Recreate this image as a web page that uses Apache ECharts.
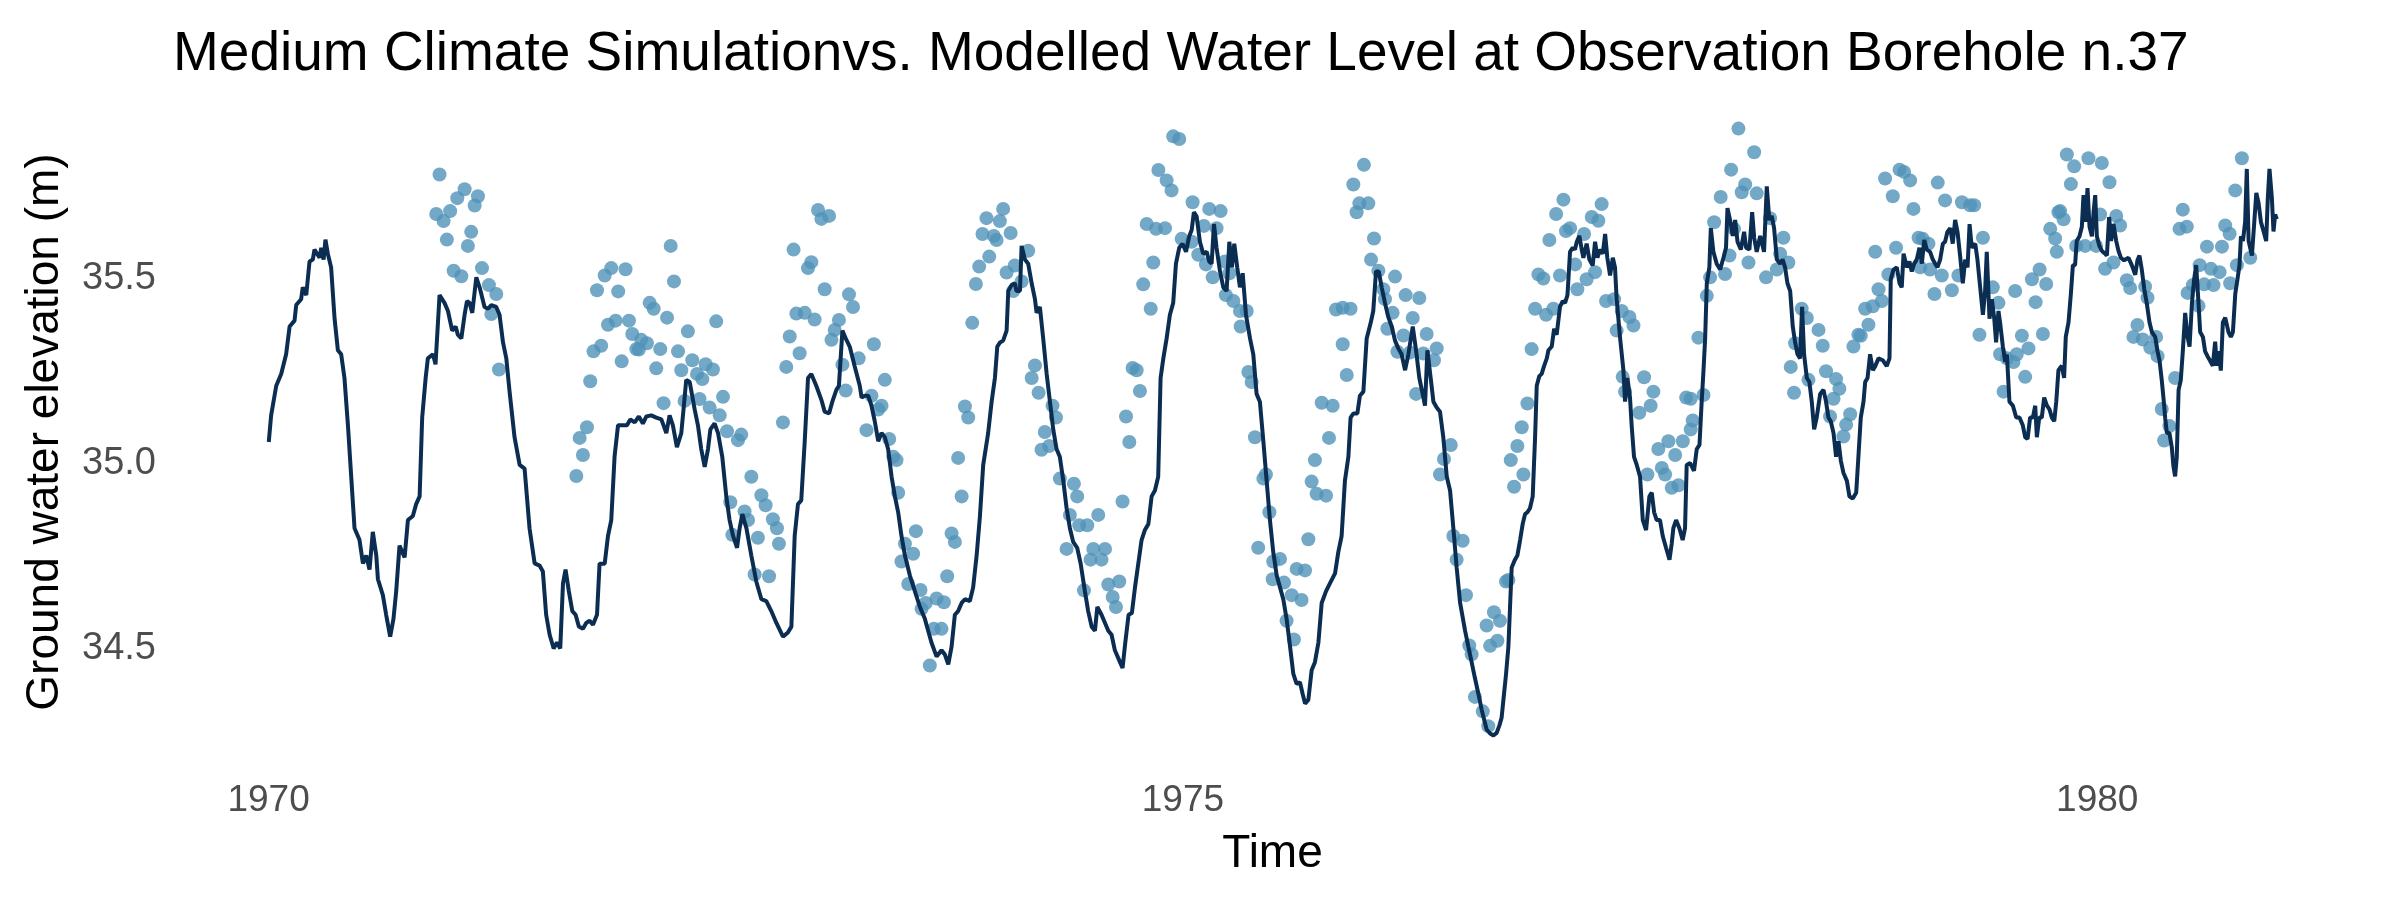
<!DOCTYPE html>
<html>
<head>
<meta charset="utf-8">
<title>Observation Borehole n.37</title>
<script src="https://cdn.jsdelivr.net/npm/echarts@6.0.0/dist/echarts.min.js"></script>
<style>
  html, body { margin: 0; padding: 0; background: #fff; }
  #chart { width: 2400px; height: 900px; }
</style>
</head>
<body>
<div id="chart"></div>
<script>
var xTicks = [1970, 1975, 1980];
var yTicks = [34.5, 35.0, 35.5];

// modelled water level [year, m]
var modelled = [
[1970.001,35.058],[1970.014,35.130],[1970.042,35.210],[1970.069,35.242],[1970.096,35.295],[1970.115,35.370],[1970.142,35.386],[1970.151,35.428],[1970.178,35.444],[1970.187,35.476],[1970.206,35.455],[1970.224,35.546],[1970.242,35.551],[1970.251,35.578],[1970.279,35.556],[1970.288,35.583],[1970.301,35.551],[1970.311,35.605],[1970.324,35.567],[1970.342,35.530],[1970.361,35.391],[1970.379,35.306],[1970.397,35.295],[1970.415,35.231],[1970.434,35.103],[1970.452,34.964],[1970.470,34.825],[1970.497,34.794],[1970.516,34.730],[1970.534,34.751],[1970.552,34.713],[1970.570,34.815],[1970.589,34.751],[1970.598,34.687],[1970.625,34.644],[1970.643,34.591],[1970.665,34.532],[1970.683,34.580],[1970.698,34.655],[1970.716,34.778],[1970.744,34.746],[1970.762,34.847],[1970.789,34.858],[1970.807,34.890],[1970.826,34.911],[1970.840,35.124],[1970.859,35.231],[1970.871,35.284],[1970.899,35.295],[1970.913,35.268],[1970.935,35.455],[1970.962,35.434],[1970.981,35.412],[1971.004,35.359],[1971.023,35.370],[1971.035,35.348],[1971.054,35.338],[1971.072,35.402],[1971.085,35.439],[1971.099,35.434],[1971.114,35.407],[1971.136,35.503],[1971.154,35.476],[1971.181,35.423],[1971.200,35.418],[1971.218,35.428],[1971.245,35.423],[1971.263,35.402],[1971.282,35.327],[1971.300,35.284],[1971.318,35.194],[1971.345,35.071],[1971.373,34.996],[1971.400,34.986],[1971.427,34.825],[1971.455,34.730],[1971.482,34.724],
[1971.500,34.708],[1971.518,34.591],[1971.537,34.537],[1971.559,34.500],[1971.577,34.516],[1971.595,34.500],[1971.610,34.676],[1971.624,34.713],[1971.642,34.655],[1971.661,34.601],[1971.679,34.591],[1971.697,34.559],[1971.719,34.553],[1971.737,34.569],[1971.756,34.575],[1971.774,34.564],[1971.796,34.591],[1971.810,34.729],[1971.838,34.729],[1971.856,34.804],[1971.874,34.847],[1971.892,35.018],[1971.911,35.103],[1971.938,35.103],[1971.960,35.103],[1971.978,35.119],[1972.002,35.111],[1972.025,35.127],[1972.047,35.108],[1972.066,35.127],[1972.093,35.130],[1972.120,35.124],[1972.148,35.119],[1972.175,35.082],[1972.193,35.130],[1972.211,35.103],[1972.233,35.044],[1972.257,35.082],[1972.270,35.151],[1972.284,35.226],[1972.303,35.220],[1972.330,35.146],[1972.348,35.103],[1972.366,35.039],[1972.385,34.991],[1972.403,35.039],[1972.416,35.092],[1972.439,35.108],[1972.458,35.082],[1972.481,35.018],[1972.503,34.911],[1972.521,34.847],[1972.540,34.804],[1972.562,34.772],[1972.576,34.825],[1972.591,34.863],[1972.613,34.825],[1972.640,34.751],[1972.667,34.681],[1972.695,34.633],[1972.722,34.628],[1972.749,34.601],[1972.777,34.569],[1972.813,34.532],[1972.840,34.543],[1972.859,34.559],[1972.877,34.804],[1972.895,34.890],[1972.913,34.900],[1972.932,35.060],[1972.950,35.231],[1972.968,35.242],[1972.995,35.210],[1973.023,35.172],[1973.041,35.140],[1973.065,35.135],[1973.083,35.167],[1973.105,35.199],[1973.119,35.210],[1973.138,35.359],[1973.156,35.338],[1973.178,35.316],[1973.205,35.263],[1973.233,35.210],
[1973.243,35.178],[1973.261,35.183],[1973.279,35.183],[1973.297,35.156],[1973.315,35.114],[1973.334,35.060],[1973.352,35.082],[1973.370,35.071],[1973.388,35.039],[1973.407,34.964],[1973.425,34.911],[1973.443,34.868],[1973.461,34.804],[1973.480,34.751],[1973.507,34.697],[1973.534,34.655],[1973.562,34.612],[1973.589,34.580],[1973.607,34.548],[1973.625,34.516],[1973.653,34.478],[1973.680,34.495],[1973.698,34.484],[1973.717,34.457],[1973.735,34.505],[1973.753,34.591],[1973.771,34.601],[1973.790,34.623],[1973.808,34.633],[1973.835,34.628],[1973.853,34.665],[1973.872,34.751],[1973.890,34.857],[1973.908,34.996],[1973.935,35.082],[1973.954,35.167],[1973.972,35.231],[1973.985,35.316],[1974.000,35.327],[1974.017,35.332],[1974.036,35.359],[1974.045,35.466],[1974.063,35.482],[1974.081,35.487],[1974.090,35.466],[1974.109,35.466],[1974.118,35.588],[1974.136,35.551],[1974.154,35.540],[1974.173,35.487],[1974.191,35.444],[1974.200,35.407],[1974.218,35.423],[1974.236,35.338],[1974.255,35.242],[1974.273,35.167],[1974.291,35.092],[1974.309,35.039],[1974.327,35.018],[1974.346,34.953],[1974.364,34.879],[1974.382,34.825],[1974.400,34.788],[1974.422,34.772],[1974.441,34.729],[1974.464,34.655],[1974.482,34.601],[1974.501,34.559],[1974.519,34.548],[1974.532,34.612],[1974.555,34.591],[1974.574,34.569],[1974.592,34.548],[1974.610,34.537],[1974.628,34.495],[1974.656,34.463],[1974.670,34.447],[1974.685,34.516],[1974.703,34.591],[1974.721,34.596],[1974.738,34.665],[1974.756,34.729],[1974.774,34.793],
[1974.792,34.820],[1974.811,34.836],[1974.829,34.911],[1974.847,34.927],[1974.865,34.964],[1974.878,35.231],[1974.893,35.284],[1974.911,35.338],[1974.929,35.402],[1974.947,35.434],[1974.962,35.540],[1974.980,35.583],[1974.998,35.594],[1975.017,35.572],[1975.035,35.615],[1975.048,35.631],[1975.060,35.679],[1975.075,35.668],[1975.093,35.599],[1975.111,35.567],[1975.130,35.572],[1975.144,35.546],[1975.157,35.540],[1975.170,35.647],[1975.184,35.583],[1975.203,35.519],[1975.221,35.476],[1975.239,35.466],[1975.254,35.599],[1975.268,35.530],[1975.281,35.594],[1975.297,35.530],[1975.312,35.476],[1975.327,35.514],[1975.345,35.402],[1975.367,35.338],[1975.385,35.295],[1975.403,35.188],[1975.421,35.167],[1975.440,35.060],[1975.458,34.953],[1975.476,34.847],[1975.494,34.761],[1975.513,34.697],[1975.531,34.665],[1975.549,34.633],[1975.567,34.580],[1975.586,34.505],[1975.604,34.431],[1975.622,34.404],[1975.640,34.409],[1975.655,34.377],[1975.668,34.351],[1975.686,34.361],[1975.704,34.441],[1975.722,34.463],[1975.741,34.516],[1975.759,34.623],[1975.783,34.655],[1975.804,34.676],[1975.832,34.703],[1975.850,34.761],[1975.868,34.804],[1975.886,34.953],[1975.905,35.018],[1975.917,35.124],[1975.932,35.135],[1975.954,35.135],[1975.968,35.183],[1975.987,35.194],[1976.005,35.338],[1976.027,35.380],[1976.041,35.412],[1976.056,35.519],[1976.071,35.519],[1976.087,35.476],[1976.105,35.434],[1976.123,35.396],[1976.142,35.370],[1976.160,35.332],[1976.178,35.311],[1976.196,35.295],[1976.215,35.252],[1976.233,35.295],[1976.257,35.370],[1976.275,35.306],[1976.293,35.231],[1976.311,35.188],[1976.324,35.156],[1976.337,35.306],[1976.355,35.231],[1976.370,35.167],[1976.388,35.151],[1976.406,35.140],[1976.424,35.071],[1976.443,34.964],[1976.461,34.927],[1976.479,34.825],[1976.497,34.719],[1976.516,34.623],
[1976.543,34.548],[1976.561,34.505],[1976.579,34.463],[1976.597,34.420],[1976.616,34.377],[1976.634,34.334],[1976.661,34.281],[1976.680,34.270],[1976.698,34.265],[1976.716,34.272],[1976.731,34.292],[1976.743,34.313],[1976.756,34.377],[1976.767,34.430],[1976.780,34.505],[1976.789,34.612],[1976.798,34.719],[1976.816,34.740],[1976.829,34.751],[1976.844,34.793],[1976.858,34.836],[1976.871,34.863],[1976.884,34.868],[1976.898,34.879],[1976.913,34.911],[1976.926,35.071],[1976.935,35.210],[1976.949,35.236],[1976.962,35.242],[1976.975,35.263],[1976.990,35.284],[1976.999,35.306],[1977.017,35.316],[1977.030,35.364],[1977.044,35.348],[1977.053,35.343],[1977.062,35.423],[1977.077,35.439],[1977.090,35.434],[1977.103,35.455],[1977.117,35.572],[1977.132,35.583],[1977.144,35.578],[1977.154,35.599],[1977.168,35.615],[1977.181,35.578],[1977.190,35.556],[1977.208,35.594],[1977.223,35.551],[1977.241,35.535],[1977.254,35.599],[1977.267,35.556],[1977.281,35.578],[1977.296,35.567],[1977.309,35.620],[1977.321,35.556],[1977.336,35.508],[1977.351,35.556],[1977.363,35.530],[1977.372,35.444],[1977.391,35.338],[1977.409,35.252],[1977.418,35.167],[1977.431,35.231],[1977.445,35.178],[1977.454,35.103],[1977.467,35.018],[1977.482,34.996],[1977.500,34.964],[1977.515,34.847],[1977.533,34.820],[1977.551,34.911],[1977.564,34.921],[1977.577,34.868],[1977.591,34.847],[1977.609,34.847],[1977.624,34.804],[1977.642,34.772],[1977.661,34.740],[1977.673,34.783],[1977.682,34.825],[1977.697,34.847],[1977.715,34.825],[1977.733,34.793],[1977.746,34.825],[1977.755,34.996],[1977.774,35.001],[1977.795,34.980],[1977.810,35.039],[1977.825,35.050],[1977.837,35.167],[1977.847,35.252],[1977.856,35.338],[1977.865,35.487],[1977.879,35.530],[1977.887,35.636],[1977.901,35.572],[1977.919,35.540],[1977.938,35.524],[1977.956,35.556],[1977.970,35.583],[1977.978,35.690],[1977.992,35.658],[1978.007,35.615],[1978.020,35.658],[1978.033,35.599],[1978.051,35.578],[1978.069,35.626],[1978.080,35.583],[1978.098,35.578],[1978.113,35.679],[1978.124,35.610],[1978.138,35.572],[1978.157,35.615],
[1978.166,35.615],[1978.178,35.572],[1978.193,35.749],[1978.207,35.658],[1978.220,35.669],[1978.233,35.636],[1978.248,35.551],[1978.266,35.540],[1978.280,35.551],[1978.293,35.530],[1978.306,35.487],[1978.321,35.466],[1978.335,35.370],[1978.348,35.327],[1978.361,35.295],[1978.375,35.284],[1978.386,35.423],[1978.397,35.295],[1978.412,35.231],[1978.426,35.220],[1978.439,35.167],[1978.452,35.092],[1978.466,35.124],[1978.485,35.188],[1978.503,35.199],[1978.517,35.167],[1978.530,35.124],[1978.543,35.114],[1978.558,35.082],[1978.572,35.018],[1978.585,35.060],[1978.598,35.007],[1978.612,34.975],[1978.631,34.953],[1978.645,34.911],[1978.663,34.905],[1978.682,34.921],[1978.694,35.018],[1978.707,35.124],[1978.722,35.167],[1978.731,35.220],[1978.744,35.231],[1978.758,35.295],[1978.773,35.252],[1978.786,35.263],[1978.804,35.284],[1978.827,35.279],[1978.849,35.263],[1978.864,35.284],[1978.871,35.498],[1978.886,35.524],[1978.904,35.530],[1978.919,35.487],[1978.931,35.476],[1978.941,35.567],[1978.959,35.530],[1978.973,35.546],[1978.986,35.519],[1978.999,35.540],[1979.013,35.551],[1979.028,35.583],[1979.041,35.540],[1979.054,35.604],[1979.068,35.578],[1979.086,35.572],[1979.101,35.551],[1979.114,35.540],[1979.126,35.530],[1979.141,35.551],[1979.156,35.594],[1979.168,35.599],[1979.181,35.626],[1979.196,35.636],[1979.210,35.594],[1979.223,35.658],[1979.236,35.626],[1979.250,35.562],[1979.265,35.487],[1979.278,35.551],[1979.291,35.530],[1979.302,35.647],[1979.314,35.583],[1979.333,35.594],[1979.345,35.551],[1979.360,35.476],[1979.375,35.402],[1979.387,35.466],[1979.396,35.572],[1979.411,35.391],[1979.424,35.444],[1979.437,35.391],[1979.447,35.327],[1979.460,35.412],[1979.469,35.380],[1979.484,35.316],[1979.497,35.274],[1979.506,35.295],[1979.520,35.167],[1979.539,35.156],[1979.557,35.124],[1979.575,35.124],[1979.593,35.103],[1979.606,35.071],[1979.619,35.066],[1979.633,35.124],[1979.648,35.124],[1979.661,35.156],[1979.670,35.071],[1979.683,35.124],[1979.697,35.124],[1979.710,35.178],[1979.725,35.156],[1979.739,35.146],[1979.752,35.124],[1979.765,35.114],[1979.776,35.167],[1979.788,35.252],
[1979.806,35.264],[1979.819,35.231],[1979.828,35.342],[1979.843,35.381],[1979.856,35.459],[1979.867,35.536],[1979.879,35.536],[1979.888,35.601],[1979.903,35.614],[1979.916,35.640],[1979.925,35.725],[1979.936,35.653],[1979.947,35.744],[1979.958,35.640],[1979.971,35.614],[1979.980,35.679],[1979.989,35.725],[1979.998,35.614],[1980.012,35.588],[1980.025,35.575],[1980.038,35.569],[1980.053,35.562],[1980.065,35.666],[1980.076,35.601],[1980.089,35.647],[1980.104,35.601],[1980.116,35.575],[1980.129,35.556],[1980.147,35.549],[1980.171,35.556],[1980.189,35.536],[1980.208,35.510],[1980.220,35.549],[1980.231,35.562],[1980.244,35.523],[1980.257,35.472],[1980.271,35.433],[1980.286,35.381],[1980.299,35.355],[1980.317,35.342],[1980.330,35.303],[1980.341,35.277],[1980.353,35.225],[1980.363,35.173],[1980.372,35.121],[1980.381,35.082],[1980.395,35.082],[1980.408,35.043],[1980.417,34.991],[1980.426,34.965],[1980.435,35.017],[1980.445,35.199],[1980.457,35.225],[1980.468,35.303],[1980.481,35.407],[1980.494,35.342],[1980.505,35.316],[1980.518,35.433],[1980.530,35.498],[1980.541,35.536],[1980.554,35.433],[1980.563,35.355],[1980.578,35.342],[1980.590,35.303],[1980.603,35.290],[1980.618,35.277],[1980.632,35.264],[1980.645,35.329],[1980.654,35.264],[1980.663,35.303],[1980.676,35.251],[1980.687,35.381],[1980.700,35.394],[1980.718,35.355],[1980.731,35.342],[1980.742,35.355],[1980.755,35.459],[1980.767,35.498],[1980.778,35.536],[1980.786,35.614],[1980.797,35.601],[1980.809,35.653],[1980.818,35.796],[1980.828,35.601],[1980.846,35.562],[1980.859,35.653],[1980.870,35.731],[1980.882,35.705],[1980.895,35.653],[1980.910,35.627],[1980.924,35.601],[1980.933,35.718],[1980.942,35.796],[1980.955,35.718],[1980.964,35.627],[1980.973,35.673],[1980.982,35.660]
];

// observed points [year, m]
var observed = [
[1970.935,35.781],[1971.072,35.741],[1971.145,35.722],[1971.032,35.717],[1971.127,35.697],[1970.993,35.682],[1970.917,35.674],[1970.957,35.655],[1970.975,35.605],[1971.108,35.626],[1971.090,35.588],[1971.012,35.521],[1971.054,35.506],[1971.167,35.528],[1971.205,35.482],[1971.245,35.458],[1971.218,35.404],[1971.260,35.254],
[1971.683,34.966],[1971.719,35.023],[1971.701,35.069],[1971.741,35.098],[1971.759,35.222],[1971.777,35.303],[1971.819,35.318],[1971.796,35.468],[1971.838,35.508],[1971.874,35.528],[1971.952,35.525],[1971.912,35.465],[1971.856,35.375],[1971.898,35.386],[1971.971,35.386],[1971.989,35.350],[1972.038,35.334],[1972.011,35.309],[1972.069,35.325],[1972.025,35.308],[1971.931,35.276],[1972.142,35.309],[1972.120,35.257],[1972.084,35.434],[1972.106,35.418],[1972.179,35.394],[1972.199,35.588],[1972.217,35.492],[1972.293,35.357],[1972.239,35.303],[1972.257,35.252],[1972.317,35.279],[1972.343,35.242],[1972.390,35.268],[1972.430,35.254],[1972.372,35.228],[1972.448,35.384],[1972.160,35.163],[1972.275,35.169],[1972.357,35.174],[1972.412,35.151],[1972.467,35.130],[1972.485,35.180],[1972.507,35.087],[1972.567,35.063],[1972.585,35.078],[1972.640,34.964],[1972.695,34.914],[1972.718,34.887],[1972.525,34.895],[1972.603,34.870],[1972.622,34.847],[1972.758,34.849],[1972.780,34.825],[1972.536,34.807],[1972.676,34.799],[1972.791,34.783],[1972.658,34.700],[1972.737,34.695],[1972.813,35.111],[1972.831,35.261],[1972.850,35.343],[1972.904,35.298],[1972.886,35.405],[1972.932,35.407],[1972.986,35.389],[1973.041,35.471],[1972.871,35.578],[1972.950,35.528],[1972.968,35.544],[1973.005,35.685],[1973.023,35.661],[1973.065,35.669],[1973.078,35.334],[1973.096,35.361],[1973.119,35.388],[1973.174,35.457],[1973.196,35.423],[1973.138,35.267],[1973.156,35.197],[1973.227,35.284],
[1973.270,35.090],[1973.310,35.322],[1973.370,35.226],[1973.297,35.183],[1973.352,35.156],[1973.334,35.146],[1973.394,35.066],[1973.416,35.018],[1973.434,35.009],[1973.443,34.921],[1973.540,34.817],[1973.480,34.783],[1973.525,34.756],[1973.461,34.735],[1973.498,34.674],[1973.565,34.658],[1973.594,34.623],[1973.653,34.635],[1973.693,34.625],[1973.571,34.607],[1973.638,34.553],[1973.680,34.553],[1973.616,34.454],[1973.711,34.695],[1973.735,34.811],[1973.753,34.788],[1973.771,35.015],[1973.790,34.911],[1973.808,35.154],[1973.826,35.124],[1973.848,35.380],[1973.868,35.485],[1973.886,35.532],[1973.926,35.663],[1973.904,35.620],[1973.941,35.559],[1973.966,35.615],[1973.981,35.604],[1973.999,35.655],[1974.017,35.688],[1974.058,35.623],[1974.036,35.516],[1974.081,35.535],[1974.118,35.492],[1974.072,35.466],[1974.154,35.575],[1974.191,35.265],[1974.173,35.231],[1974.211,35.191],[1974.287,35.156],[1974.306,35.124],[1974.245,35.085],[1974.227,35.037],[1974.269,35.047],[1974.327,34.959],[1974.404,34.945],[1974.422,34.911],[1974.382,34.861],[1974.433,34.833],[1974.477,34.833],[1974.537,34.861],[1974.364,34.769],[1974.510,34.769],[1974.574,34.769],[1974.495,34.740],[1974.555,34.740],[1974.459,34.657],[1974.592,34.673],[1974.652,34.681],[1974.616,34.639],[1974.634,34.612],[1974.670,34.897],[1974.689,35.127],[1974.707,35.058],[1974.725,35.258],[1974.747,35.252],[1974.765,35.196],[1974.783,35.484],[1974.824,35.418],[1974.838,35.543],[1974.802,35.647],[1974.853,35.634],[1974.866,35.793],
[1974.947,35.884],[1974.980,35.877],[1974.911,35.765],[1974.938,35.738],[1974.902,35.636],[1975.053,35.706],[1975.144,35.688],[1975.206,35.682],[1975.115,35.642],[1975.184,35.636],[1974.993,35.607],[1975.048,35.599],[1975.084,35.564],[1975.126,35.538],[1975.163,35.503],[1975.230,35.546],[1975.254,35.514],[1975.235,35.455],[1975.276,35.439],[1975.312,35.412],[1975.349,35.412],[1975.316,35.370],[1975.358,35.247],[1975.376,35.220],[1975.394,35.071],[1975.440,34.959],[1975.454,34.970],[1975.473,34.868],[1975.412,34.772],[1975.531,34.742],[1975.494,34.735],[1975.491,34.687],[1975.553,34.678],[1975.595,34.644],[1975.649,34.631],[1975.567,34.575],[1975.607,34.524],[1975.622,34.715],[1975.668,34.711],[1975.686,34.795],[1975.704,34.951],[1975.722,35.009],[1975.731,34.918],[1975.783,34.913],[1975.799,35.069],[1975.759,35.164],[1975.819,35.156],[1975.896,35.239],[1975.874,35.322],[1975.837,35.416],[1975.874,35.421],[1975.917,35.418],[1975.950,35.679],[1975.932,35.754],[1975.965,35.703],[1976.014,35.703],[1975.990,35.807],[1976.045,35.608],[1976.029,35.551],[1976.069,35.521],[1976.160,35.505],[1976.096,35.471],[1976.105,35.444],[1976.147,35.407],[1976.118,35.364],[1976.218,35.455],[1976.293,35.447],[1976.257,35.393],[1976.333,35.350],[1976.206,35.346],[1976.173,35.302],[1976.242,35.300],[1976.315,35.297],[1976.388,35.311],[1976.373,35.279],[1976.275,35.188],[1976.465,35.050],[1976.428,35.012],[1976.406,34.970],[1976.479,34.804],[1976.497,34.740],
[1978.038,35.905],[1978.124,35.841],[1977.998,35.794],[1978.075,35.754],[1978.056,35.733],[1978.138,35.730],[1977.941,35.720],[1977.905,35.652],[1978.014,35.634],[1977.989,35.562],[1977.965,35.512],[1978.093,35.543],[1977.883,35.503],[1977.865,35.453],[1977.819,35.340],[1977.847,35.185],[1977.752,35.178],[1977.777,35.175],[1977.788,35.116],[1977.777,35.092],[1977.734,35.060],[1977.655,35.060],[1977.692,35.023],[1977.600,35.039],[1977.619,34.988],[1977.637,34.970],[1977.673,34.934],[1977.710,34.941],[1977.540,34.970],[1977.522,35.233],[1977.573,35.194],[1977.558,35.156],[1977.496,35.137],[1977.464,35.373],[1977.442,35.396],[1977.400,35.412],[1977.372,35.359],[1977.405,35.234],[1977.418,35.194],[1977.358,35.444],[1977.314,35.439],[1977.290,35.701],[1977.236,35.666],[1977.272,35.656],[1977.194,35.620],[1977.117,35.636],[1977.095,35.628],[1977.081,35.713],[1977.041,35.674],[1977.004,35.604],[1977.062,35.508],[1976.944,35.511],[1976.971,35.500],[1977.145,35.538],[1977.157,35.471],[1977.208,35.498],[1977.254,35.517],[1976.926,35.418],[1976.986,35.402],[1977.026,35.418],[1976.907,35.309],[1976.884,35.162],[1976.853,35.098],[1976.829,35.047],[1976.793,35.009],[1976.811,34.937],[1976.862,34.970],[1976.767,34.681],[1976.780,34.685],[1976.701,34.598],[1976.734,34.575],[1976.661,34.562],[1976.680,34.507],[1976.720,34.521],[1976.566,34.508],[1976.579,34.484],[1976.597,34.369],[1976.548,34.644],[1976.530,34.791],[1976.640,34.330],[1976.670,34.290],
[1978.211,35.663],[1978.284,35.610],[1978.266,35.567],[1978.311,35.543],[1978.189,35.503],[1978.248,35.524],[1978.384,35.418],[1978.412,35.393],[1978.348,35.325],[1978.324,35.261],[1978.342,35.191],[1978.421,35.226],[1978.476,35.361],[1978.499,35.318],[1978.517,35.249],[1978.572,35.228],[1978.590,35.202],[1978.558,35.175],[1978.539,35.127],[1978.627,35.105],[1978.649,35.133],[1978.612,35.073],[1978.667,35.316],[1978.694,35.348],[1978.749,35.375],[1978.707,35.345],[1978.731,35.418],[1978.773,35.425],[1978.804,35.471],[1978.822,35.439],[1978.786,35.572],[1978.840,35.770],[1978.882,35.722],[1978.919,35.794],[1978.944,35.788],[1978.977,35.765],[1978.995,35.688],[1978.858,35.511],[1978.900,35.583],[1979.023,35.610],[1979.046,35.607],[1979.077,35.594],[1979.032,35.530],[1979.086,35.524],[1979.150,35.508],[1979.110,35.458],[1979.205,35.468],[1979.241,35.508],[1979.128,35.759],[1979.168,35.711],[1979.260,35.706],[1979.305,35.698],[1979.327,35.698],[1979.375,35.610],[1979.429,35.476],[1979.460,35.434],[1979.356,35.348],[1979.469,35.295],[1979.488,35.194],[1979.506,35.284],[1979.542,35.274],[1979.560,35.295],[1979.588,35.345],[1979.624,35.311],[1979.606,35.234],[1979.551,35.466],[1979.643,35.498],[1979.685,35.524],[1979.721,35.485],[1979.663,35.436],[1979.703,35.350],[1979.743,35.634],[1979.770,35.608],[1979.779,35.572],[1979.788,35.679],
[1979.834,35.835],[1979.874,35.803],[1979.952,35.825],[1980.025,35.812],[1979.856,35.755],[1980.067,35.760],[1979.797,35.682],[1979.816,35.660],[1979.885,35.588],[1979.934,35.588],[1979.994,35.588],[1980.016,35.673],[1980.104,35.669],[1980.125,35.643],[1980.043,35.526],[1980.089,35.543],[1980.162,35.495],[1980.180,35.474],[1980.262,35.478],[1980.275,35.448],[1980.220,35.374],[1980.198,35.342],[1980.249,35.335],[1980.322,35.342],[1980.290,35.313],[1980.330,35.290],[1980.353,35.147],[1980.395,35.101],[1980.366,35.062],[1980.426,35.231],[1980.468,35.686],[1980.450,35.634],[1980.490,35.640],[1980.494,35.461],[1980.523,35.482],[1980.560,35.536],[1980.600,35.586],[1980.622,35.526],[1980.636,35.482],[1980.669,35.517],[1980.682,35.586],[1980.700,35.643],[1980.724,35.621],[1980.727,35.487],[1980.585,35.484],[1980.554,35.426],[1980.755,35.738],[1980.791,35.825],[1980.764,35.536],[1980.837,35.556]
];

var chart = echarts.init(document.getElementById('chart'));

var font = 'Liberation Sans, Arial, Helvetica, sans-serif';

var option = {
    animation: false,
    backgroundColor: '#ffffff',
    title: {
        text: 'Medium Climate Simulationvs. Modelled Water Level at Observation Borehole n.37',
        left: 168,
        top: 22,
        textStyle: {
            fontFamily: font,
            fontSize: 55,
            fontWeight: 'normal',
            color: '#000000'
        }
    },
    grid: {
        left: 168,
        right: 23,
        top: 99,
        bottom: 135
    },
    xAxis: {
        type: 'value',
        min: 1969.45,
        max: 1981.53,
        name: 'Time',
        nameLocation: 'middle',
        nameGap: 66,
        nameTextStyle: {
            fontFamily: font,
            fontSize: 46,
            color: '#000000'
        },
        axisLine: {show: false},
        axisTick: {show: false},
        splitLine: {show: false},
        axisLabel: {
            customValues: xTicks,
            margin: 17,
            fontFamily: font,
            fontSize: 37,
            color: '#4d4d4d',
            formatter: function (v) { return String(v); }   // no thousands separator
        }
    },
    yAxis: {
        type: 'value',
        min: 34.185,
        max: 35.985,
        name: 'Ground water elevation (m)',
        nameLocation: 'middle',
        nameRotate: 90,
        nameGap: 100,
        nameTextStyle: {
            fontFamily: font,
            fontSize: 46,
            color: '#000000'
        },
        axisLine: {show: false},
        axisTick: {show: false},
        splitLine: {show: false},
        axisLabel: {
            customValues: yTicks,
            margin: 12,
            fontFamily: font,
            fontSize: 38,
            color: '#4d4d4d',
            formatter: function (v) { return v.toFixed(1); }
        }
    },
    series: [
        {
            name: 'Observed',
            type: 'scatter',
            symbol: 'circle',
            symbolSize: 14,
            itemStyle: {color: '#5092b8'},
            data: observed,
            z: 2
        },
        {
            name: 'Modelled',
            type: 'line',
            showSymbol: false,
            lineStyle: {width: 4, color: '#0b2d52'},
            data: modelled,
            z: 3
        }
    ]
};

chart.setOption(option);
</script>
</body>
</html>
